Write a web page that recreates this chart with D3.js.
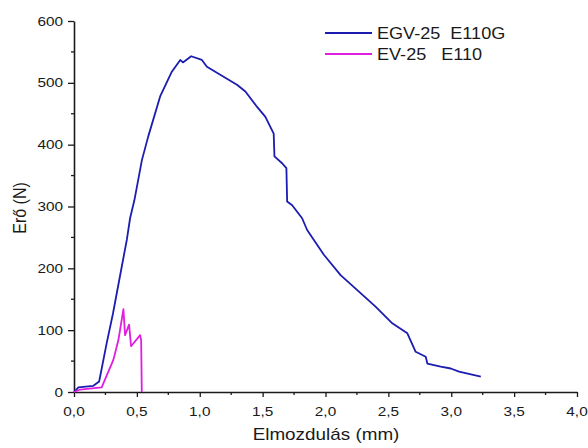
<!DOCTYPE html>
<html>
<head>
<meta charset="utf-8">
<script src="https://cdn.jsdelivr.net/npm/d3@7"></script>
<style>
  html, body { margin: 0; padding: 0; background: #fff; }
  svg { display: block; font-family: "Liberation Sans", Arial, sans-serif; }
</style>
</head>
<body>
<svg id="chart" width="588" height="448"></svg>
<script>
// Data (x: Elmozdulás mm, y: Erő N)
const egvX = [0.0, 0.035, 0.154, 0.2, 0.26, 0.31, 0.38, 0.42, 0.446, 0.48, 0.54, 0.59, 0.685, 0.778, 0.845, 0.866, 0.932, 1.017, 1.057, 1.163, 1.296, 1.363, 1.456, 1.522, 1.588, 1.594, 1.655, 1.689, 1.695, 1.735, 1.814, 1.854, 1.987, 2.12, 2.279, 2.398, 2.531, 2.651, 2.717, 2.797, 2.81, 2.916, 2.996, 3.062, 3.235];
const egvY = [0, 7.5, 10, 17, 79, 127, 203, 246, 281, 310, 375, 413, 478, 518, 537, 533, 543, 537, 526, 513, 497, 486, 461, 445, 418, 381, 370, 362, 308, 302, 281, 262, 222, 189, 160, 138, 111, 95, 65, 57, 46, 41, 38, 33, 25];
const evX = [0.0, 0.05, 0.22, 0.313, 0.353, 0.393, 0.406, 0.438, 0.454, 0.526, 0.534, 0.539];
const evY = [0, 4, 7.5, 52, 84, 134, 92, 109, 74, 92, 84, 0];
const seriesNames = ["EGV-25  E110G", "EV-25   E110"];
const xTicks = [0, 0.5, 1.0, 1.5, 2.0, 2.5, 3.0, 3.5, 4.0];
const yTicks = [0, 100, 200, 300, 400, 500, 600];
const xLabel = "Elmozdulás (mm)";
const yLabel = "Erő (N)";

const colors = ["#1c1cb0", "#e01ee0"];
const SX = 1.18; // horizontal stretch of the original picture's text
const ink = "#1a1a1a";
const svg = d3.select("#chart");
const x = d3.scaleLinear().domain([0, 4]).range([74, 577]);
const y = d3.scaleLinear().domain([0, 600]).range([392, 21]);

function stretchedText(g, px, py, str, size, anchor) {
  return g.append("text")
    .attr("transform", `translate(${px},${py}) scale(${SX},1)`)
    .attr("text-anchor", anchor).attr("font-size", size).attr("fill", ink)
    .style("white-space", "pre").text(str);
}

// X axis
const xAxis = svg.append("g").attr("transform", "translate(0,392)");
xAxis.call(d3.axisBottom(x).tickValues(xTicks).tickSize(5).tickSizeOuter(0).tickFormat(""));
xAxis.append("g").selectAll("line").data(d3.range(0.25, 4, 0.5)).join("line")
  .attr("x1", d => x(d)).attr("x2", d => x(d)).attr("y1", 0).attr("y2", 3)
  .attr("stroke", ink).attr("stroke-width", 1.3);
xTicks.forEach(t => stretchedText(svg, x(t), 416, d3.format(".1f")(t).replace(".", ","), 13, "middle"));

// Y axis
const yAxis = svg.append("g").attr("transform", "translate(74,0)");
yAxis.call(d3.axisLeft(y).tickValues(yTicks).tickSize(6).tickSizeOuter(0).tickFormat(""));
yAxis.append("g").selectAll("line").data(d3.range(50, 600, 100)).join("line")
  .attr("y1", d => y(d)).attr("y2", d => y(d)).attr("x1", 0).attr("x2", -3)
  .attr("stroke", ink).attr("stroke-width", 1.3);
yTicks.forEach(t => stretchedText(svg, 63, y(t) + 4.6, String(t), 13, "end"));

svg.selectAll(".domain").attr("stroke", ink).attr("stroke-width", 1.6);
svg.selectAll(".tick line").attr("stroke", ink).attr("stroke-width", 1.3);

// Axis titles
stretchedText(svg, 326, 440, xLabel, 16, "middle");
svg.append("text").attr("transform", "translate(26,208) rotate(-90) scale(1,1.1)")
  .attr("text-anchor", "middle").attr("font-size", 16).attr("fill", ink).text(yLabel);

// Lines
const line = d3.line().x(d => x(d[0])).y(d => y(d[1]));
const data = [d3.zip(egvX, egvY), d3.zip(evX, evY)];
svg.append("g").selectAll("path").data(data).join("path")
  .attr("d", line).attr("fill", "none")
  .attr("stroke", (d, i) => colors[i]).attr("stroke-width", 1.8)
  .attr("stroke-linejoin", "round");

// Legend
const leg = svg.append("g");
seriesNames.forEach((name, i) => {
  const ly = 33 + i * 21;
  leg.append("line").attr("x1", 325).attr("x2", 372).attr("y1", ly).attr("y2", ly)
    .attr("stroke", colors[i]).attr("stroke-width", 1.8);
  stretchedText(leg, 377, ly + 5.8, name, 16, "start").attr("transform", `translate(377,${ly + 5.8}) scale(1.13,1)`);
});
</script>
</body>
</html>
